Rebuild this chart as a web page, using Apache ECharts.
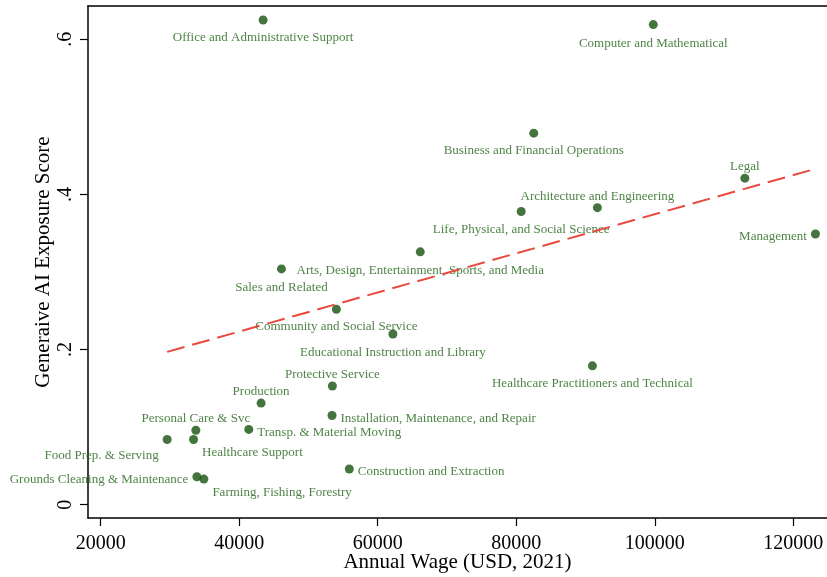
<!DOCTYPE html>
<html>
<head>
<meta charset="utf-8">
<script src="https://cdn.jsdelivr.net/npm/echarts@6/dist/echarts.min.js"></script>
<style>
  html, body { margin: 0; padding: 0; background: #fff; }
  #chart { width: 827px; height: 577px; }
</style>
</head>
<body>
<div id="chart"></div>
<script>
// Occupation groups: mean annual wage vs. generative AI exposure
const occupations = [
  'Office and Administrative Support',
  'Computer and Mathematical',
  'Business and Financial Operations',
  'Legal',
  'Architecture and Engineering',
  'Life, Physical, and Social Science',
  'Management',
  'Arts, Design, Entertainment, Sports, and Media',
  'Sales and Related',
  'Community and Social Service',
  'Educational Instruction and Library',
  'Healthcare Practitioners and Technical',
  'Protective Service',
  'Production',
  'Installation, Maintenance, and Repair',
  'Personal Care & Svc',
  'Transp. & Material Moving',
  'Food Prep. & Serving',
  'Healthcare Support',
  'Grounds Cleaning & Maintenance',
  'Farming, Fishing, Forestry',
  'Construction and Extraction'
];
const wages = [
  43450, 99780, 82520, 113000, 91710, 80710, 123190, 66140, 46100, 54030, 62190,
  90990, 53450, 43160, 53400, 33740, 41380, 29600, 33410, 33890, 34900, 55900
];
const exposure = [
  0.625, 0.619, 0.479, 0.421, 0.383, 0.378, 0.349, 0.326, 0.304, 0.252, 0.220,
  0.179, 0.153, 0.131, 0.115, 0.096, 0.097, 0.084, 0.084, 0.036, 0.033, 0.046
];

// Linear fit endpoints
const fitWage = [29600, 123190];
const fitScore = [0.197, 0.433];

// Axis ticks
const xTicks = [20000, 40000, 60000, 80000, 100000, 120000];
const yTicks = [0, 0.2, 0.4, 0.6];
const yTickLabels = ['0', '.2', '.4', '.6'];

// Where each marker label sits relative to its point: side and vertical nudge
const labelPlacement = {
  'Office and Administrative Support': ['bottom', 0],
  'Computer and Mathematical': ['bottom', 1],
  'Business and Financial Operations': ['bottom', 0],
  'Legal': ['top', 0],
  'Architecture and Engineering': ['top', 0],
  'Life, Physical, and Social Science': ['bottom', 1],
  'Management': ['left', 3],
  'Arts, Design, Entertainment, Sports, and Media': ['bottom', 1],
  'Sales and Related': ['bottom', 1],
  'Community and Social Service': ['bottom', 0],
  'Educational Instruction and Library': ['bottom', 1],
  'Healthcare Practitioners and Technical': ['bottom', 0],
  'Protective Service': ['top', 0],
  'Production': ['top', 0],
  'Installation, Maintenance, and Repair': ['right', 3],
  'Personal Care & Svc': ['top', 0],
  'Transp. & Material Moving': ['right', 3],
  'Food Prep. & Serving': ['left', 16],
  'Healthcare Support': ['right', 13],
  'Grounds Cleaning & Maintenance': ['left', 3],
  'Farming, Fishing, Forestry': ['right', 14],
  'Construction and Extraction': ['right', 3]
};
const labelDistance = { top: 0, bottom: 6, left: 4, right: 4 };

const SERIF = 'Liberation Serif, Times New Roman, serif';
const POINT_GREEN = '#17520f';
const TEXT_GREEN = '#226418';
const FIT_RED = '#e9493f';

const points = occupations.map((name, i) => {
  const pos = labelPlacement[name][0];
  return {
    name: name,
    value: [wages[i], exposure[i]],
    label: { position: pos, distance: labelDistance[pos] }
  };
});

const xMin = 18170, xMax = 124860;
const yMin = -0.0172, yMax = 0.643;

const chart = echarts.init(document.getElementById('chart'), null, { renderer: 'canvas' });
chart.setOption({
  animation: false,
  backgroundColor: '#ffffff',
  grid: { left: 88, top: 6, right: 0, bottom: 59, containLabel: false, outerBoundsMode: 'none' },
  xAxis: [{
    type: 'value',
    min: xMin,
    max: xMax,
    name: 'Annual Wage (USD, 2021)',
    nameLocation: 'middle',
    nameGap: 34,
    nameMoveOverlap: false,
    nameTextStyle: { fontFamily: SERIF, fontSize: 21, color: '#000' },
    axisLine: { show: true, onZero: false, lineStyle: { color: '#000', width: 1.5 } },
    axisTick: { show: true, length: 8, inside: false, customValues: xTicks, lineStyle: { color: '#000', width: 1.2 } },
    axisLabel: { customValues: xTicks, margin: 16, fontFamily: SERIF, fontSize: 20, color: '#000', formatter: v => String(v) },
    splitLine: { show: false }
  }, {
    type: 'value',
    position: 'top',
    min: xMin,
    max: xMax,
    axisLine: { show: true, onZero: false, lineStyle: { color: '#000', width: 1.5 } },
    axisTick: { show: false },
    axisLabel: { show: false },
    splitLine: { show: false }
  }],
  yAxis: {
    type: 'value',
    min: yMin,
    max: yMax,
    name: 'Generaive AI Exposure Score',
    nameLocation: 'middle',
    nameRotate: 90,
    nameGap: 34,
    nameMoveOverlap: false,
    nameTextStyle: { fontFamily: SERIF, fontSize: 21, color: '#000' },
    axisLine: { show: true, onZero: false, lineStyle: { color: '#000', width: 1.5 } },
    axisTick: { show: true, length: 8, inside: false, customValues: yTicks, lineStyle: { color: '#000', width: 1.2 } },
    axisLabel: {
      customValues: yTicks,
      rotate: 90,
      margin: 12,
      fontFamily: SERIF,
      fontSize: 20,
      color: '#000',
      formatter: v => yTickLabels[yTicks.findIndex(t => Math.abs(t - v) < 1e-9)] ?? ''
    },
    splitLine: { show: false }
  },
  series: [{
    type: 'scatter',
    xAxisIndex: 0,
    data: points,
    symbol: 'circle',
    symbolSize: 9,
    itemStyle: { color: POINT_GREEN },
    label: {
      show: true,
      formatter: p => p.name,
      fontFamily: SERIF,
      fontSize: 13,
      lineHeight: 14,
      color: TEXT_GREEN
    },
    labelLayout: params => ({
      dy: labelPlacement[occupations[params.dataIndex]][1],
      hideOverlap: false
    }),
    z: 2
  }, {
    type: 'line',
    xAxisIndex: 0,
    data: fitWage.map((w, i) => [w, fitScore[i]]),
    symbol: 'none',
    lineStyle: { color: FIT_RED, width: 2, type: [18, 8] },
    z: 3
  }]
});
</script>
</body>
</html>
